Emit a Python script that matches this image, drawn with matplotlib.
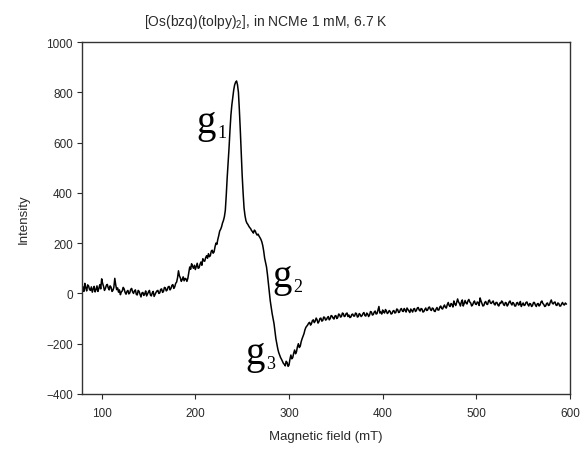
import numpy as np
import matplotlib
matplotlib.use("Agg")
import matplotlib.pyplot as plt

# EPR spectrum of [Os(bzq)(tolpy)2] in NCMe (1 mM, 6.7 K)
field_start, field_stop, field_step = 80, 596, 1  # mT
intensity = [
    25, 8, 40, 22, 10, 34, 30, 16, 12, 26, 5, 18, 28, 6, 15, 30, 8, 20, 35, 18,
    58, 40, 28, 12, 20, 32, 36, 22, 14, 30, 25, 8, 12, 24, 60, 34, 15, 22, 5, 14,
    -5, 6, 10, 24, 18, 4, -3, 8, 12, -2, 2, 16, 20, 6, 0, 10, 14, -4, -6, 12,
    8, -4, -14, 2, 4, -8, -2, 10, -10, -2, 6, 12, -6, -10, 2, 8, -12, -4, 4, 10,
    12, 0, 2, 16, 18, 4, 8, 24, 22, 10, 14, 26, 28, 14, 20, 32, 35, 20, 26, 40,
    45, 62, 90, 70, 62, 48, 55, 66, 50, 60, 58, 48, 60, 82, 105, 96, 118, 108, 100, 112,
    95, 108, 120, 100, 102, 116, 125, 112, 138, 130, 128, 142, 150, 140, 158, 146, 150, 168, 172, 160,
    165, 185, 200, 195, 215, 230, 248, 255, 265, 280, 290, 305, 330, 390, 460, 520, 580, 650, 710, 750,
    780, 810, 830, 840, 845, 830, 800, 730, 650, 560, 470, 400, 340, 310, 290, 280, 275, 268, 262, 258,
    250, 246, 240, 252, 248, 238, 232, 236, 228, 222, 215, 205, 190, 168, 140, 122, 105, 75, 40, 5,
    -30, -55, -80, -100, -120, -150, -180, -200, -220, -235, -245, -255, -262, -270, -278, -282, -288, -270, -275, -290,
    -285, -262, -245, -260, -255, -238, -225, -240, -232, -212, -200, -215, -210, -192, -180, -170, -160, -145, -135, -130,
    -125, -118, -115, -126, -120, -108, -105, -116, -110, -98, -105, -118, -112, -100, -98, -110, -108, -94, -95, -106,
    -104, -96, -92, -105, -100, -88, -90, -98, -102, -90, -88, -100, -96, -82, -84, -94, -92, -78, -80, -92,
    -90, -80, -78, -92, -86, -96, -94, -84, -82, -90, -90, -78, -80, -94, -92, -80, -84, -92, -88, -80,
    -76, -88, -90, -78, -82, -92, -86, -72, -74, -86, -84, -74, -70, -82, -80, -66, -52, -78, -74, -82,
    -66, -74, -78, -64, -70, -80, -76, -68, -72, -82, -80, -70, -68, -78, -76, -62, -64, -76, -74, -64,
    -60, -70, -72, -60, -66, -74, -58, -64, -70, -76, -62, -68, -74, -62, -60, -72, -68, -58, -56, -66,
    -70, -60, -62, -74, -72, -64, -58, -68, -66, -56, -54, -64, -68, -58, -60, -70, -72, -62, -56, -66,
    -66, -54, -50, -60, -62, -52, -46, -56, -58, -44, -36, -48, -52, -40, -44, -54, -30, -42, -48, -36,
    -22, -34, -40, -50, -34, -26, -50, -40, -28, -38, -42, -30, -24, -34, -38, -50, -46, -36, -30, -42,
    -44, -34, -36, -48, -18, -30, -40, -50, -48, -36, -32, -42, -44, -30, -26, -38, -40, -34, -30, -42,
    -46, -36, -36, -46, -50, -38, -40, -30, -34, -44, -48, -36, -38, -50, -44, -34, -30, -40, -46, -36,
    -40, -50, -50, -38, -36, -46, -44, -32, -52, -44, -38, -48, -46, -36, -34, -44, -50, -40, -42, -52,
    -48, -36, -36, -46, -52, -42, -40, -50, -46, -34, -30, -40, -44, -52, -50, -40, -38, -48, -46, -34,
    -26, -38, -42, -36, -34, -46, -48, -38, -40, -50, -50, -42, -36, -44, -46, -38, -42,
]
field = np.arange(field_start, field_stop + 1, field_step)
assert len(field) == len(intensity)

x_ticks = [100, 200, 300, 400, 500, 600]
y_ticks = [-400, -200, 0, 200, 400, 600, 800, 1000]

# g-value labels: (main, subscript, left px, baseline px)
g_labels = [
    ("g", "1", 196, 133),
    ("g", "2", 272, 287),
    ("g", "3", 245, 364),
]

W, H = 584, 452
fig = plt.figure(figsize=(W / 100, H / 100), dpi=100)
ax = fig.add_axes([82 / W, 1 - 395 / H, 488 / W, 352 / H])

sans = "Liberation Sans"
serif = "Liberation Serif"
dark = "#2a2a2a"

ax.plot(field, intensity, color="black", lw=1.1)

ax.set_xlim(79, 600)
ax.set_ylim(-400, 1000)
ax.set_xticks(x_ticks)
ax.set_yticks(y_ticks)
ax.tick_params(axis="both", direction="out", length=3.6, width=0.8,
               colors=dark, labelsize=8.5, pad=3)
ax.tick_params(axis="x", pad=6)
for lab in ax.get_xticklabels() + ax.get_yticklabels():
    lab.set_fontfamily(sans)
for sp in ax.spines.values():
    sp.set_color("#333333")
    sp.set_linewidth(1.0)

ax.set_xlabel("Magnetic field (mT)", fontfamily=sans, fontsize=9.5,
              color=dark, labelpad=8)
ax.set_ylabel("Intensity", fontfamily=sans, fontsize=9.5, color=dark,
              labelpad=12)

fig.text(266 / W, 1 - 22 / H, r"[Os(bzq)(tolpy)$_\mathregular{2}$], in NCMe 1 mM, 6.7 K",
         fontfamily=sans, fontsize=10, color=dark, ha="center", va="center")

for main, sub, gx, gy in g_labels:
    fig.text(gx / W, 1 - gy / H, main, fontfamily=serif, fontsize=28,
             ha="left", va="baseline", color="black")
    fig.text((gx + 21) / W, 1 - (gy + 5) / H, sub, fontfamily=serif,
             fontsize=13, ha="left", va="baseline", color="black")

fig.savefig("out.png", dpi=100)
